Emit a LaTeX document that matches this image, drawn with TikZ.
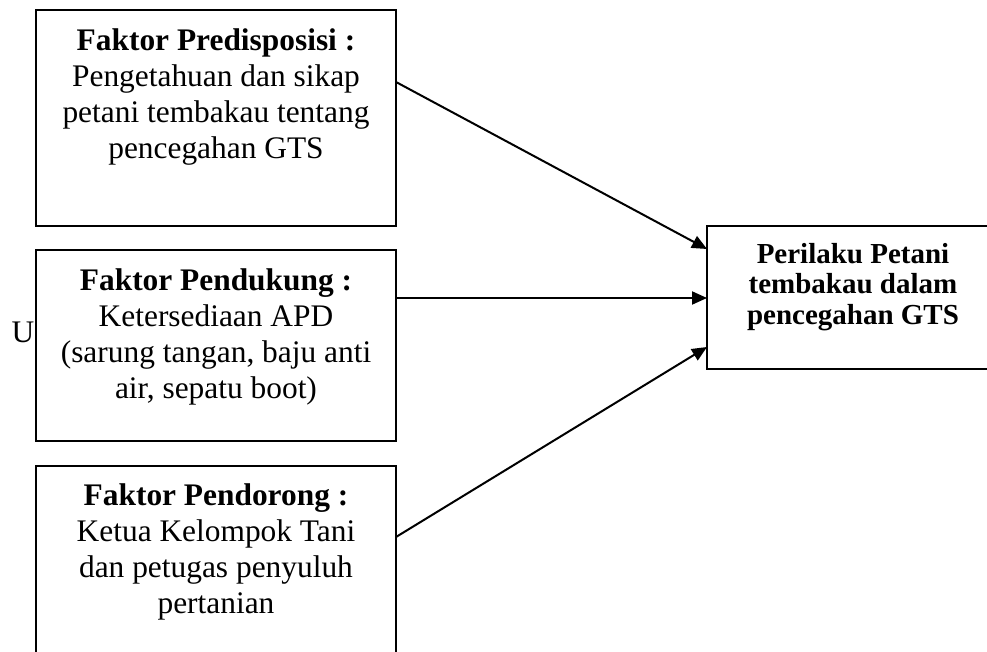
\documentclass[tikz,border=0pt]{standalone}
\usepackage{fontspec}
\setmainfont{Liberation Serif}
\usetikzlibrary{arrows.meta,calc}
\begin{document}
\begin{tikzpicture}[x=1pt,y=-1pt,
  box/.style={draw,line width=2pt,inner sep=0pt,outer sep=0pt,anchor=north west},
  txt/.style={align=center,inner sep=0pt,anchor=north,font=\fontsize{31.4}{36}\selectfont},
  rtxt/.style={align=center,inner sep=0pt,anchor=north,font=\fontsize{29}{30.5}\selectfont\bfseries},
  conn/.style={line width=2pt,-{Triangle[length=15pt,width=13pt]}}]
\useasboundingbox (0,0) rectangle (987,652);
\fill[white] (0,0) rectangle (987,652);
\node[box,minimum width=360pt,minimum height=216pt] (b1) at (36,10) {};
\node[box,minimum width=360pt,minimum height=191pt] (b2) at (36,250) {};
\node[box,minimum width=360pt,minimum height=210pt] (b3) at (36,466) {};
\node[box,minimum width=300pt,minimum height=143pt] (r) at (707,226) {};
\node[txt] (t1) at (216,29) {\textbf{Faktor Predisposisi :}\\Pengetahuan dan sikap\\petani tembakau tentang\\pencegahan GTS};
\node[txt] (t2) at (216,269) {\textbf{Faktor Pendukung :}\\Ketersediaan APD\\(sarung tangan, baju anti\\air, sepatu boot)};
\node[txt] (t3) at (216,484) {\textbf{Faktor Pendorong :}\\Ketua Kelompok Tani\\dan petugas penyuluh\\pertanian};
\node[rtxt] (tr) at (853,243) {Perilaku Petani\\tembakau dalam\\pencegahan GTS};
\node[inner sep=0pt,anchor=base,font=\fontsize{31.4}{36}\selectfont] (u) at (23,342) {U};
\draw[conn] ($(b1.north east)+(0,72)$) -- ($(r.north west)+(0,23)$);
\draw[conn] ($(b2.north east)+(0,48)$) -- ($(r.north west)+(0,72)$);
\draw[conn] ($(b3.north east)+(0,71)$) -- ($(r.north west)+(0,121)$);
\end{tikzpicture}
\end{document}
